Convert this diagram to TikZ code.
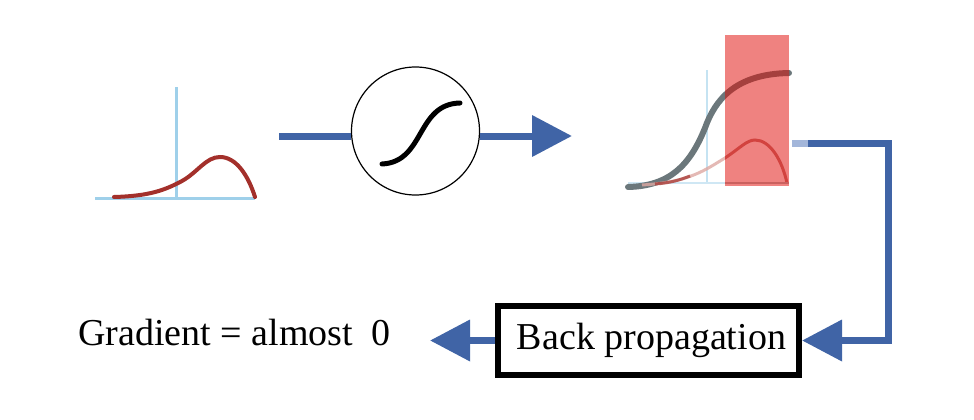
\documentclass[tikz,border=0pt]{standalone}
\usepackage{fontspec}
\setmainfont{Liberation Serif}
\usetikzlibrary{arrows.meta}
\definecolor{flow}{HTML}{4064A6}
\definecolor{flowlight}{HTML}{A3B6DA}
\definecolor{axisblue}{HTML}{9FD0EA}
\definecolor{curvered}{HTML}{A3302B}
\definecolor{hotred}{HTML}{EF8280}
\definecolor{sgray}{HTML}{6B777B}
\definecolor{sdark}{HTML}{A5403E}
\definecolor{bumpin}{HTML}{D2433F}
\definecolor{bumpout}{HTML}{DDA8A2}
\begin{document}
\begin{tikzpicture}[x=1pt,y=-1pt,
  flowline/.style={draw=flow,line width=7pt},
  bigtip/.style={-{Triangle[length=40pt,width=40pt]}},
  axisline/.style={draw=axisblue,line width=3pt},
  lbl/.style={font=\fontsize{38}{40}\selectfont,inner sep=0pt}]
\useasboundingbox (0,0) rectangle (974,420);

% left plot
\draw[axisline] (176,87) -- (176,198);
\draw[axisline] (95,198) -- (255,198);
\draw[draw=curvered,line width=4pt,line cap=round]
  (114,197) .. controls (150,196) and (165,190) .. (182,181)
  .. controls (198,172) and (206,157) .. (220,157)
  .. controls (236,157) and (248,175) .. (255,197);

% sigmoid node
\node[circle,draw,line width=1.2pt,minimum size=128pt,inner sep=0pt] (sig) at (415.5,131) {};
\draw[line width=5pt,line cap=round]
  (382,164) .. controls (425,162) and (416,104) .. (460,103);

\coordinate (p1out) at (279,136);
\draw[flowline] (p1out) -- (p1out -| sig.west);
\coordinate (p2in) at (572,136);
\draw[flowline,bigtip] (p2in -| sig.east) -- (p2in);

% right plot
\draw[draw=axisblue!60,line width=2.5pt] (707,70) -- (707,183);
\draw[draw=axisblue!50,line width=2.5pt] (628,183) -- (725,183);
\draw[draw=sgray,line width=6pt,line cap=round]
  (628,187) .. controls (670,186) and (690,165) .. (705,128)
  .. controls (715,100) and (735,74) .. (789,73);
\draw[draw=bumpout,line width=3pt,opacity=0.8]
  (642,185) .. controls (690,182) and (705,170) .. (725,158)
  .. controls (740,148) and (747,140) .. (755,140)
  .. controls (770,140) and (782,160) .. (787,183);
\draw[draw=curvered,line width=3pt,opacity=0.7]
  (655,184) .. controls (670,183) and (680,180) .. (690,176);
\fill[hotred] (725,35) rectangle (789,186);
\begin{scope}
  \clip (725,35) rectangle (789,186);
  \draw[draw=sdark,line width=6pt,line cap=round]
    (628,187) .. controls (670,186) and (690,165) .. (705,128)
    .. controls (715,100) and (735,74) .. (789,73);
  \draw[draw=bumpin,line width=3pt]
    (642,185) .. controls (690,182) and (705,170) .. (725,158)
    .. controls (740,148) and (747,140) .. (755,140)
    .. controls (770,140) and (782,160) .. (787,183);
  \draw[draw=sdark!50!hotred,line width=2pt] (725,183) -- (789,183);
\end{scope}

% back propagation box
\node[draw,line width=6pt,minimum width=301pt,minimum height=69pt,inner sep=0pt,lbl] (bp) at (648.5,340.5) {\hspace{6pt}Back propagation};

\coordinate (p2out) at (808,143);
\draw[draw=flowlight,line width=7pt] (792,143) -- (p2out);
\draw[flowline,bigtip,line join=miter] (p2out) -- (888,143) |- (bp.east);

% gradient text
\node[lbl,anchor=base west] (grad) at (78,345) {Gradient = almost\ \ 0};
\coordinate (gtip) at (430,340.5);
\draw[flowline,bigtip] (bp.west) -- (gtip);
\end{tikzpicture}
\end{document}
